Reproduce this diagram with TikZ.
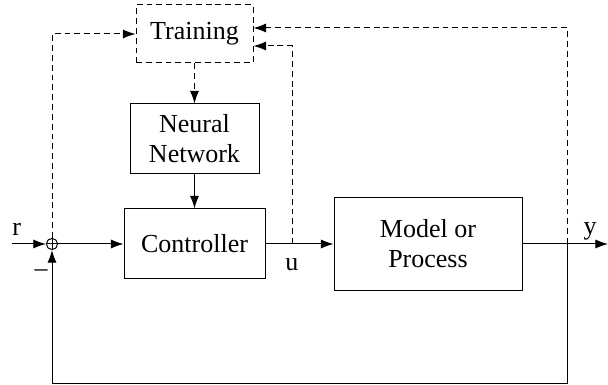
\documentclass[tikz,border=0pt]{standalone}
\usepackage{fontspec}
\setmainfont{Liberation Serif}
\usepackage{tikz}
\usetikzlibrary{positioning,arrows.meta}

\begin{document}
\begin{tikzpicture}[font=\fontsize{18.5}{21.3}\selectfont, x=1cm, y=1cm, line width=0.7pt,
  >={Latex[length=9pt,width=6.5pt]},
  block/.style={draw, rectangle, align=center, inner sep=0pt},
  dashline/.style={dash pattern=on 4.2pt off 2.8pt},
  sumnode/.style={circle, draw, inner sep=0pt, minimum size=0.28cm,
    path picture={\draw (path picture bounding box.north) -- (path picture bounding box.south)
      (path picture bounding box.west) -- (path picture bounding box.east);}}]
\useasboundingbox (0,0) rectangle (15.2,9.625);
% blocks
\node[block, dashline, minimum width=2.925cm, minimum height=1.45cm] (train) at (4.8625,8.775) {Training};
\node[block, minimum width=3.225cm, minimum height=1.75cm] (nn) at (4.8625,6.15) {Neural\\Network};
\node[block, minimum width=3.525cm, minimum height=1.75cm] (ctrl) at (4.8625,3.525) {Controller};
\node[block, minimum width=4.7cm, minimum height=2.325cm] (model) at (10.7,3.525) {Model or\\Process};
\node[sumnode] (sum) at (1.3,3.525) {};
% signal points
\coordinate (in) at (0.3,3.525);
\coordinate (utap) at (7.3,3.525);
\coordinate (ytap) at (14.175,3.525);
\coordinate (out) at (15.2,3.525);
\coordinate (fb) at (1.3,0.04);
% labels
\node (rlab) at (0.42,3.9) {r};
\node (minus) at (1.03,2.8) {\textendash};
\node (ulab) at (7.3,3.02) {u};
\node (ylab) at (14.75,3.85) {y};
% solid signals
\draw[->] (in) -- (sum);
\draw[->] (sum) -- (ctrl);
\draw[->] (ctrl) -- (model);
\draw[->] (model) -- (out);
\draw[->] (nn) -- (ctrl);
\draw[->] (ytap) |- (fb) -- (sum);
% training signals
\draw[dashline, ->] (train) -- (nn);
\draw[dashline, ->] (sum) |- (train);
\draw[dashline, ->] (utap) |- ([yshift=-0.3cm]train.east);
\draw[dashline, ->] (ytap) |- ([yshift=0.15cm]train.east);
\end{tikzpicture}
\end{document}
